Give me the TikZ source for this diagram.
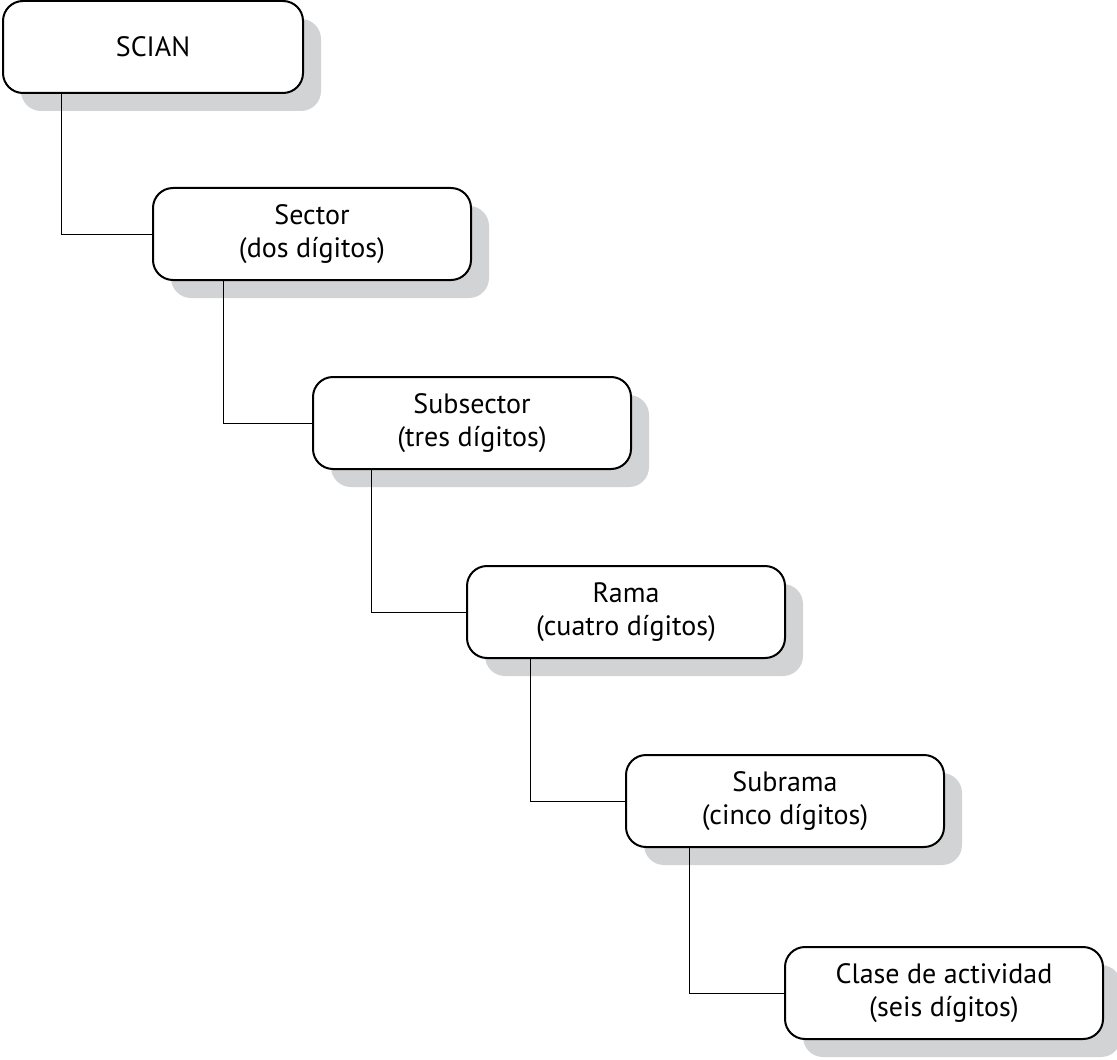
\documentclass[tikz,border=0pt]{standalone}
\usepackage{fontspec}
\setmainfont{PT Sans}
\usetikzlibrary{shadows}

\definecolor{shadowgray}{RGB}{209,211,212}

\tikzset{
	nivel/.style={draw, line width=1pt, rounded corners=10pt, fill=white, align=center,
		minimum width=159pt, minimum height=46pt, inner sep=0pt,
		font=\fontsize{14}{16.5}\selectfont,
		drop shadow={shadow xshift=9pt, shadow yshift=-9pt, fill=shadowgray, opacity=1}},
	enlace/.style={line width=0.5pt}
}

\begin{document}
\begin{tikzpicture}[x=0.5pt,y=-0.5pt]
	\useasboundingbox (0,0) rectangle (1117,1059);

	\node[nivel, minimum width=150pt] (scian) at (153,47) {SCIAN};
	\node[nivel] (sector) at (312,234) {Sector\\(dos dígitos)};
	\node[nivel] (subsector) at (472,423) {Subsector\\(tres dígitos)};
	\node[nivel] (rama) at (626,612) {Rama\\(cuatro dígitos)};
	\node[nivel] (subrama) at (785,801) {Subrama\\(cinco dígitos)};
	\node[nivel] (clase) at (944,993) {Clase de actividad\\(seis dígitos)};

	% conectores
	\draw[enlace] ([xshift=29.5pt]scian.south west) |- (sector.west);
	\draw[enlace] ([xshift=35.5pt]sector.south west) |- (subsector.west);
	\draw[enlace] ([xshift=29.5pt]subsector.south west) |- (rama.west);
	\draw[enlace] ([xshift=32pt]rama.south west) |- (subrama.west);
	\draw[enlace] ([xshift=32pt]subrama.south west) |- (clase.west);
\end{tikzpicture}
\end{document}
